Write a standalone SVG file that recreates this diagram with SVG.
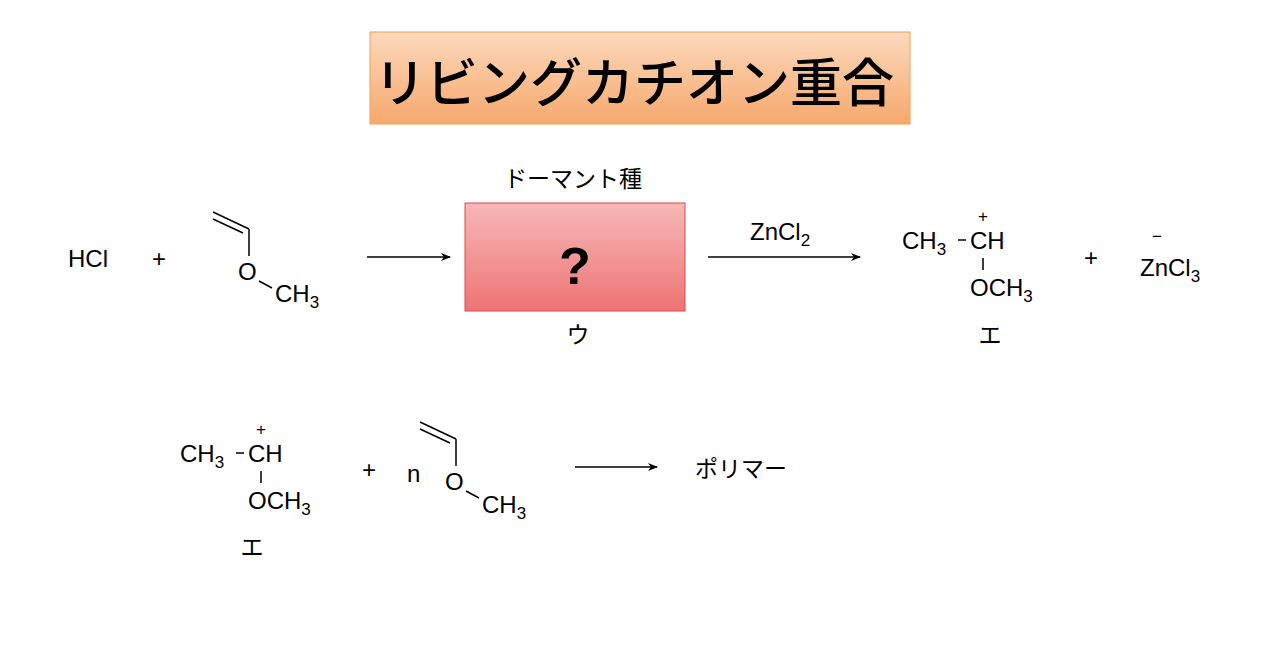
<svg xmlns="http://www.w3.org/2000/svg" width="1280" height="670" viewBox="0 0 1280 670">
<style>
text{font-family:"Liberation Sans","Noto Sans CJK JP",sans-serif;fill:#000}
.t{font-size:24px}
.j{font-family:"Noto Sans CJK JP",sans-serif;font-size:23px}
.s{font-size:17px}
.b{stroke:#000;stroke-width:1.5;fill:none}
</style>
<defs>
<linearGradient id="og" x1="0" y1="0" x2="0" y2="1"><stop offset="0" stop-color="#fcd9bc"/><stop offset="1" stop-color="#f6a86c"/></linearGradient>
<linearGradient id="rg" x1="0" y1="0" x2="0" y2="1"><stop offset="0" stop-color="#f7b8b8"/><stop offset="1" stop-color="#ee7474"/></linearGradient>
<marker id="ar" markerWidth="10" markerHeight="8" refX="9" refY="4" orient="auto" markerUnits="userSpaceOnUse"><path d="M0,0 L10,4 L0,8 L3,4 z" fill="#000"/></marker>
</defs>
<g id="title"><rect x="370" y="32" width="540" height="92" fill="url(#og)" stroke="#f0a050"/><text x="634" y="102" text-anchor="middle" style="font-family:'Noto Sans CJK JP',sans-serif;font-size:52px;font-weight:500">リビングカチオン重合</text></g>
<g id="hcl"><text class="t" x="68" y="267">HCl</text></g>
<g id="plus1"><text class="t" x="152" y="267">+</text></g>
<g id="vinyl1"><path class="b" d="M213,212 L249,229 M213,219 L243,233 M249,229 V256 M259,281 L272,288"/><text class="t" x="238" y="280">O</text><text class="t" x="275" y="302">CH<tspan dy="6" class="s">3</tspan></text></g>
<g id="dormant"><text class="j" x="573" y="187" text-anchor="middle">ドーマント種</text><rect x="465" y="203" width="220" height="108" fill="url(#rg)" stroke="#e04848"/><text x="575" y="284" text-anchor="middle" style="font-size:52px;font-weight:bold">?</text><text class="j" x="578" y="343" text-anchor="middle">ウ</text></g>
<g id="cation1"><text class="s" x="983" y="222" text-anchor="middle">+</text><text class="t" x="902" y="249">CH<tspan dy="6" class="s">3</tspan></text><path class="b" d="M958,240 H966 M983,258 V270"/><text class="t" x="970" y="249">CH</text><text class="t" x="970" y="296">OCH<tspan dy="6" class="s">3</tspan></text><text class="j" x="990" y="343" text-anchor="middle">エ</text></g>
<g id="plus2"><text class="t" x="1084" y="266">+</text></g>
<g id="zncl3"><text class="s" x="1157" y="242" text-anchor="middle">−</text><text class="t" x="1140" y="276">ZnCl<tspan dy="6" class="s">3</tspan></text></g>
<g id="cation2"><text class="s" x="261" y="435" text-anchor="middle">+</text><text class="t" x="180" y="462">CH<tspan dy="6" class="s">3</tspan></text><path class="b" d="M236,453 H244 M261,471 V483"/><text class="t" x="248" y="462">CH</text><text class="t" x="248" y="509">OCH<tspan dy="6" class="s">3</tspan></text><text class="j" x="252" y="555" text-anchor="middle">エ</text></g>
<g id="plus3"><text class="t" x="362" y="478">+</text></g>
<g id="n"><text class="t" x="407" y="482">n</text></g>
<g id="vinyl2"><path class="b" d="M420,422 L456,439 M420,429 L450,443 M456,439 V466 M466,491 L479,498"/><text class="t" x="445" y="490">O</text><text class="t" x="482" y="513">CH<tspan dy="6" class="s">3</tspan></text></g>
<g id="polymer"><text class="j" x="695" y="477">ポリマー</text></g>
<g id="connectors">
<line class="b" x1="367" y1="257" x2="450" y2="257" marker-end="url(#ar)"/>
<line class="b" x1="708" y1="257" x2="860" y2="257" marker-end="url(#ar)"/>
<text class="t" x="750" y="240">ZnCl<tspan dy="6" class="s">2</tspan></text>
<line class="b" x1="575" y1="467" x2="657" y2="467" marker-end="url(#ar)"/>
</g>
</svg>
